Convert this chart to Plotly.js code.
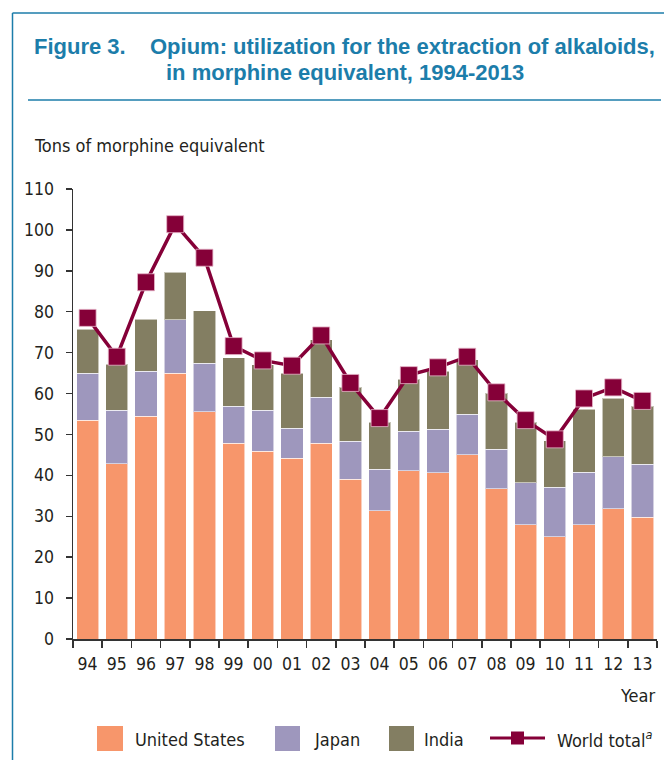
<!DOCTYPE html>
<html>
<head>
<meta charset="utf-8">
<script src="https://cdn.plot.ly/plotly-3.0.1.min.js"></script>
<style>html,body{margin:0;padding:0;background:#fff;}#chart{width:664px;height:760px;}</style>
</head>
<body>
<div id="chart"></div>
<script>
// ---- Data (tons of morphine equivalent) ----
const years = ['94','95','96','97','98','99','00','01','02','03','04','05','06','07','08','09','10','11','12','13'];
const unitedStates = [53.5,42.8,54.4,65.0,55.6,47.8,45.9,44.2,47.8,39.0,31.4,41.1,40.6,45.1,36.7,27.9,25.0,27.9,31.8,29.8];
const japan        = [11.5,13.1,11.0,13.0,11.8, 9.1,10.0, 7.3,11.3, 9.3,10.1, 9.7,10.7, 9.8, 9.7,10.3,12.1,12.9,12.8,12.9];
const india        = [10.7,11.3,12.8,11.6,12.9,11.9,11.1,13.5,14.0,13.3,11.5,12.7,14.2,13.4,13.7,14.8,11.4,15.4,14.2,14.2];
const worldTotal   = [78.5,69.0,87.2,101.4,93.2,71.6,68.1,66.8,74.2,62.6,54.0,64.5,66.4,69.0,60.3,53.5,48.8,58.8,61.5,58.2];
const yTicks = [0,10,20,30,40,50,60,70,80,90,100,110];

// ---- Style ----
const C_US = '#F7966B', C_JP = '#9E97BD', C_IN = '#837E62', C_W = '#850038';
const TEAL = '#1c7daa';
const NARROW = '"DejaVu Sans Condensed", "Liberation Sans", sans-serif';
const TXT = '#231f20';
const FS = 18;
const ML = 73, MR = 7, MT = 189, MB = 121, W = 664, H = 760;
const PW = W - ML - MR, PH = H - MT - MB;
const PX = x => (x - ML) / PW;
const PY = y => (H - MB - y) / PH;

const barLine = {color: 'rgba(255,255,255,0.55)', width: 1};
const traces = [
  {type: 'bar', name: 'United States', x: years, y: unitedStates, marker: {color: C_US, line: barLine}},
  {type: 'bar', name: 'Japan', x: years, y: japan, marker: {color: C_JP, line: barLine}},
  {type: 'bar', name: 'India', x: years, y: india, marker: {color: C_IN, line: barLine}},
  {type: 'scatter', mode: 'lines+markers', name: 'World total', x: years, y: worldTotal,
   line: {color: C_W, width: 3.5},
   marker: {symbol: 'square', size: 17, color: C_W, line: {color: 'rgba(230,180,200,0.8)', width: 1}}}
];

const shapes = [
  // frame
  {type: 'line', xref: 'paper', yref: 'paper', x0: PX(12.5), x1: PX(12.5), y0: PY(13), y1: PY(760), line: {color: TEAL, width: 1.5}},
  {type: 'line', xref: 'paper', yref: 'paper', x0: PX(12.5), x1: PX(664), y0: PY(13), y1: PY(13), line: {color: TEAL, width: 1.5}},
  {type: 'line', xref: 'paper', yref: 'paper', x0: PX(28), x1: PX(661), y0: PY(100), y1: PY(100), line: {color: TEAL, width: 1.5}},
  // legend swatches
  {type: 'rect', xref: 'paper', yref: 'paper', x0: PX(97), x1: PX(123), y0: PY(751), y1: PY(726), fillcolor: C_US, line: {width: 0}},
  {type: 'rect', xref: 'paper', yref: 'paper', x0: PX(275), x1: PX(300), y0: PY(751), y1: PY(726), fillcolor: C_JP, line: {width: 0}},
  {type: 'rect', xref: 'paper', yref: 'paper', x0: PX(389), x1: PX(414), y0: PY(751), y1: PY(726), fillcolor: C_IN, line: {width: 0}},
  {type: 'line', xref: 'paper', yref: 'paper', x0: PX(490), x1: PX(545), y0: PY(738), y1: PY(738), line: {color: C_W, width: 3}},
  {type: 'rect', xref: 'paper', yref: 'paper', x0: PX(511), x1: PX(524), y0: PY(744.5), y1: PY(731.5), fillcolor: C_W, line: {width: 0}}
];

const ann = (text, x, y, opts) => Object.assign({text, xref: 'paper', yref: 'paper', x: PX(x), y: PY(y),
  xanchor: 'left', yanchor: 'middle', showarrow: false, font: {family: NARROW, size: FS, color: TXT}}, opts || {});
const titleFont = {family: '"Liberation Sans", Arial, sans-serif', size: 22, color: TEAL, weight: 'bold'};

const annotations = [
  ann('Figure 3.', 32, 46, {font: titleFont}),
  ann('Opium: utilization for the extraction of alkaloids,', 148, 46, {font: titleFont}),
  ann('in morphine equivalent, 1994-2013', 164, 72, {font: titleFont}),
  ann('Tons of morphine equivalent', 32, 146),
  ann('Year', 657, 695, {xanchor: 'right'}),
  ann('United States', 133, 739),
  ann('Japan', 312, 739),
  ann('India', 422, 739),
  ann('World total<sup><i>a</i></sup>', 555, 739)
];

const layout = {
  width: W, height: H,
  margin: {l: ML, r: MR, t: MT, b: MB, pad: 0},
  paper_bgcolor: '#fff', plot_bgcolor: '#fff',
  barmode: 'stack', bargap: 0.24,
  showlegend: false,
  font: {family: NARROW, size: FS, color: TXT},
  xaxis: {type: 'category', range: [-0.5, 19.5], showgrid: false, zeroline: false,
          showline: true, linecolor: '#333', linewidth: 1.5,
          ticks: 'outside', ticklen: 7, tickcolor: '#333', tickwidth: 1.5, tickson: 'boundaries',
          tickangle: 0,
          tickfont: {family: NARROW, size: 17.5, color: TXT}, ticklabelstandoff: 8},
  yaxis: {range: [0, 110], tickvals: yTicks, showgrid: false, zeroline: false,
          showline: true, linecolor: '#333', linewidth: 1.5,
          ticks: 'outside', ticklen: 6, tickcolor: '#333', tickwidth: 1.5,
          tickfont: {family: NARROW, size: 17.5, color: TXT}, ticklabelstandoff: 8},
  shapes, annotations
};

Plotly.newPlot('chart', traces, layout, {displayModeBar: false, staticPlot: true});
</script>
</body>
</html>
